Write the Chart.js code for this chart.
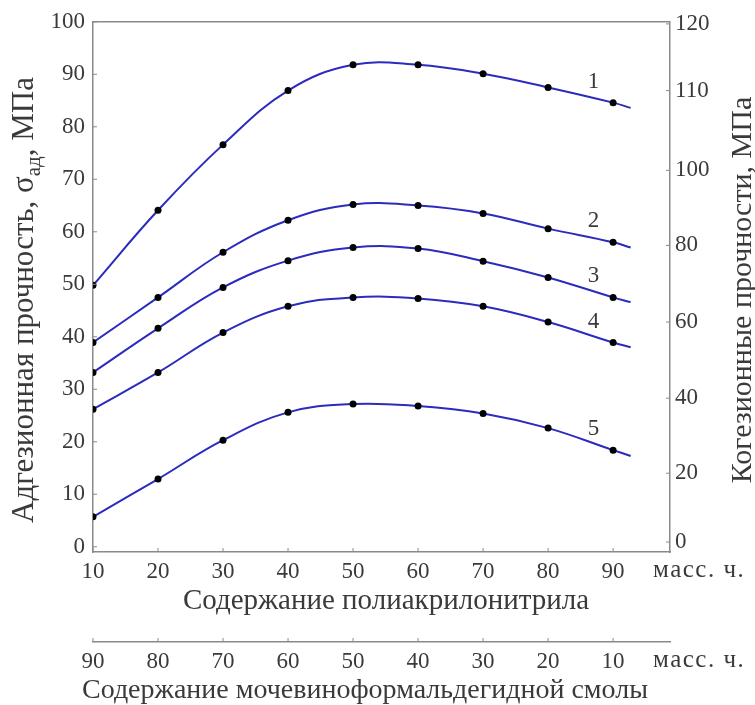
<!DOCTYPE html>
<html>
<head>
<meta charset="utf-8">
<script src="https://cdn.jsdelivr.net/npm/chart.js@4.4.1/dist/chart.umd.min.js"></script>
<style>
  html, body { margin: 0; padding: 0; background: #fff; }
</style>
</head>
<body>
<canvas id="c" width="755" height="705"></canvas>
<script>
// содержание полиакрилонитрила, масс. ч. (узлы с маркерами)
const panPct = [10, 20, 30, 40, 50, 60, 70, 80, 90];
// кривые продолжаются чуть дальше последней точки (без маркера)
const tailPct = 92.7;

// адгезионная прочность, МПа (кривые 1..5)
const curve1 = [49.8, 64.1, 76.6, 86.9, 91.8, 91.8, 90.1, 87.5, 84.6];
const curve2 = [38.9, 47.5, 56.1, 62.2, 65.2, 65.0, 63.5, 60.6, 58.0];
const curve3 = [33.2, 41.6, 49.4, 54.5, 57.0, 56.8, 54.4, 51.3, 47.5];
const curve4 = [26.2, 33.2, 40.8, 45.8, 47.5, 47.3, 45.8, 42.8, 38.9];
const curve5 = [5.7, 12.9, 20.3, 25.6, 27.2, 26.8, 25.4, 22.6, 18.4];
const tails = [83.6, 57.0, 46.6, 38.0, 17.3];
const curveNames = ['1', '2', '3', '4', '5'];

// оси
const leftTicks = [0, 10, 20, 30, 40, 50, 60, 70, 80, 90, 100];
const panTicks = [10, 20, 30, 40, 50, 60, 70, 80, 90];
const resinTicks = [90, 80, 70, 60, 50, 40, 30, 20, 10];
// правая шкала в оригинале неравномерная: подписи и где они стоят (в единицах левой шкалы)
const cohLabels = ['120', '110', '100', '80', '60', '40', '20', '0'];
const cohAt = [99.6, 86.9, 71.7, 57.4, 42.8, 28.3, 14.0, 0.9];

const xMax = 98.75;
const unitText = 'масс. ч.';
const lineColor = '#2b2bbd';
const axisColor = '#8a8a8a';
const textColor = '#3a3a3a';
const serif = '"Liberation Serif", "DejaVu Serif", serif';

Chart.defaults.font.family = serif;
Chart.defaults.color = textColor;

const curves = [curve1, curve2, curve3, curve4, curve5];
const datasets = curves.map((c, k) => ({
  label: curveNames[k],
  data: panPct.map((x, i) => ({x, y: c[i]})).concat([{x: tailPct, y: tails[k]}]),
  borderColor: lineColor,
  borderWidth: 2,
  tension: 0.4,
  pointRadius: ctx => ctx.dataIndex < panPct.length ? 3.5 : 0,
  pointBackgroundColor: '#000',
  pointBorderWidth: 0,
  xAxisID: 'x',
  yAxisID: 'y'
}));

function drawRotated(ctx, parts, size, bx, cy) {
  ctx.save();
  ctx.translate(bx, cy);
  ctx.rotate(-Math.PI / 2);
  ctx.textAlign = 'left';
  ctx.textBaseline = 'alphabetic';
  const fnt = p => (p.sub ? Math.round(size * 0.68) : size) + 'px ' + serif;
  let total = 0;
  parts.forEach(p => { ctx.font = fnt(p); total += ctx.measureText(p.t).width });
  let cur = -total / 2;
  parts.forEach(p => {
    ctx.font = fnt(p);
    ctx.fillText(p.t, cur, p.sub ? 7 : 0);
    cur += ctx.measureText(p.t).width;
  });
  ctx.restore();
}

const extras = {
  id: 'extras',
  afterDraw(chart) {
    const {ctx, chartArea: a, scales} = chart;
    const {x, x2, y, y1} = scales;
    ctx.save();
    ctx.strokeStyle = axisColor;
    ctx.lineWidth = 1.5;
    ctx.beginPath();
    ctx.moveTo(a.left, a.top); ctx.lineTo(a.right, a.top);
    ctx.stroke();
    // риски внутрь
    ctx.lineWidth = 1;
    ctx.beginPath();
    x.ticks.forEach(t => { const p = x.getPixelForValue(t.value); ctx.moveTo(p, x.top); ctx.lineTo(p, x.top - 4) });
    x2.ticks.forEach(t => { const p = x2.getPixelForValue(t.value); ctx.moveTo(p, x2.top); ctx.lineTo(p, x2.top - 4) });
    y.ticks.forEach(t => { const p = y.getPixelForValue(t.value); ctx.moveTo(y.right, p); ctx.lineTo(y.right + 4, p) });
    y1.ticks.forEach(t => { const p = y1.getPixelForValue(t.value); ctx.moveTo(y1.left, p); ctx.lineTo(y1.left - 4, p) });
    ctx.stroke();

    ctx.fillStyle = textColor;
    ctx.textBaseline = 'middle';
    ctx.textAlign = 'left';
    ctx.font = '25px ' + serif;
    ctx.letterSpacing = '1.5px';
    ctx.fillText(unitText, x.right - 17, x.top + 18);
    ctx.fillText(unitText, x2.right - 17, x2.top + 18);
    ctx.letterSpacing = '0px';

    // подписи осей X
    ctx.textAlign = 'center';
    ctx.font = '29px ' + serif;
    ctx.fillText('Содержание полиакрилонитрила', 386, x.top + 49);
    ctx.font = '28px ' + serif;
    ctx.fillText('Содержание мочевиноформальдегидной смолы', 365, x2.top + 49);

    // номера кривых
    ctx.font = '23px ' + serif;
    chart.data.datasets.forEach((ds, i) => {
      const px = x.getPixelForValue(87);
      const py = y.getPixelForValue(ds.data[panPct.length - 1].y) - 21;
      ctx.fillText(curveNames[i], px, py);
    });

    drawRotated(ctx, [{t: 'Адгезионная прочность, σ'}, {t: 'ад', sub: true}, {t: ', МПа'}], 31, 33, 300);
    drawRotated(ctx, [{t: 'Когезионные прочности, МПа'}], 30, 751, 290);
    ctx.restore();
  }
};

const tickFont = {size: 23};
new Chart(document.getElementById('c'), {
  type: 'line',
  data: {datasets},
  options: {
    responsive: false,
    animation: false,
    layout: {padding: {top: 20, left: 0, right: 0, bottom: 0}},
    plugins: {legend: {display: false}, tooltip: {enabled: false}},
    scales: {
      x: {
        type: 'linear', position: 'bottom', weight: 0, min: 10, max: xMax,
        afterBuildTicks: s => { s.ticks = panTicks.map(v => ({value: v})) },
        grid: {display: false, drawTicks: false},
        border: {display: true, color: axisColor, width: 1.5},
        ticks: {padding: 6, font: tickFont, maxRotation: 0, autoSkip: false},
        afterFit: s => { s.height = 90 }
      },
      x2: {
        type: 'linear', position: 'bottom', weight: 1, reverse: true, min: 100 - xMax, max: 90,
        afterBuildTicks: s => { s.ticks = resinTicks.map(v => ({value: v})) },
        grid: {display: false, drawTicks: false},
        border: {display: true, color: axisColor, width: 1.5},
        ticks: {padding: 6, font: tickFont, maxRotation: 0, autoSkip: false},
        afterFit: s => { s.height = 63 }
      },
      y: {
        type: 'linear', position: 'left', min: -1, max: 100,
        afterBuildTicks: s => { s.ticks = leftTicks.map(v => ({value: v})) },
        grid: {display: false, drawTicks: false},
        border: {display: true, color: axisColor, width: 1.5},
        ticks: {padding: 8, font: tickFont},
        afterFit: s => { s.width = 93 }
      },
      y1: {
        type: 'linear', position: 'right', min: -1, max: 100,
        afterBuildTicks: s => { s.ticks = cohAt.map(v => ({value: v})) },
        grid: {display: false, drawTicks: false},
        border: {display: true, color: axisColor, width: 1.5},
        ticks: {padding: 5, font: tickFont, callback: (v, i) => cohLabels[i]},
        afterFit: s => { s.width = 85 }
      }
    }
  },
  plugins: [extras]
});
</script>
</body>
</html>
